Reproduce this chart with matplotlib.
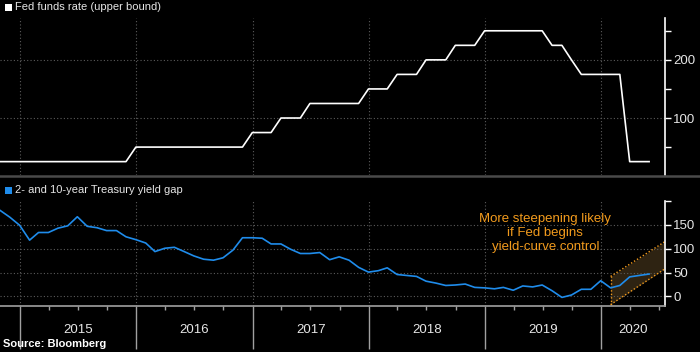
import numpy as np
import pandas as pd
import matplotlib
matplotlib.use("Agg")
import matplotlib.pyplot as plt
import matplotlib.dates as mdates
from matplotlib.lines import Line2D
from matplotlib.patches import Rectangle
from matplotlib.transforms import blended_transform_factory

plt.rcParams['font.family'] = ['Liberation Sans', 'DejaVu Sans']

# month-end observations, Oct 2014 .. May 2020
months = pd.date_range('2014-10-31', '2020-05-31', freq='ME')

fed_funds = [25, 25, 25,
             25, 25, 25, 25, 25, 25, 25, 25, 25, 25, 25, 50,
             50, 50, 50, 50, 50, 50, 50, 50, 50, 50, 50, 75,
             75, 75, 100, 100, 100, 125, 125, 125, 125, 125, 125, 150,
             150, 150, 175, 175, 175, 200, 200, 200, 225, 225, 225, 250,
             250, 250, 250, 250, 250, 250, 225, 225, 200, 175, 175, 175,
             175, 175, 25, 25, 25]

yield_gap = [180, 166, 149,
             118, 134, 134, 143, 148, 167, 147, 144, 138, 138, 125, 119,
             112, 94, 101, 103, 94, 85, 78, 76, 81, 97, 123, 123,
             122, 110, 110, 99, 90, 90, 92, 77, 83, 76, 61, 51,
             54, 60, 46, 44, 42, 32, 28, 23, 24, 26, 19, 18,
             16, 19, 13, 22, 20, 24, 12, -2, 3, 15, 15, 33,
             18, 23, 41, 44, 47]

# projected steepening band
band_dates = pd.to_datetime(['2020-01-31', '2020-07-20'])
band_upper = [42, 115]
band_lower = [-17, 58]

years = [2015, 2016, 2017, 2018, 2019, 2020]
x_start = pd.Timestamp('2014-10-30')
x_end = pd.Timestamp('2020-07-20')

BG = 'black'
TXT = '#e6e6e6'
GRID = '#5c5c5c'
BLUE = '#1f8ceb'
ORANGE = '#f29b1d'

W, H = 700, 352
fig = plt.figure(figsize=(7, 3.52), dpi=100, facecolor=BG)
ax1 = fig.add_axes([0, 1 - 175 / H, 665 / W, (175 - 18) / H], facecolor=BG)
ax2 = fig.add_axes([0, 1 - 306 / H, 665 / W, (306 - 201) / H], facecolor=BG)

year_starts = [pd.Timestamp(f'{y}-01-01') for y in years]
quarters = [pd.Timestamp(f'{y}-{m:02d}-01') for y in years for m in (4, 7, 10)]
quarters = [q for q in quarters if q < x_end]

for ax in (ax1, ax2):
    ax.set_xlim(x_start, x_end)
    for s in ('left', 'top', 'bottom'):
        ax.spines[s].set_visible(False)
    ax.spines['right'].set_color('white')
    ax.spines['right'].set_linewidth(1.2)
    ax.yaxis.tick_right()
    ax.tick_params(axis='y', which='both', colors='white', length=4, width=1,
                   labelcolor=TXT, labelsize=9.5, pad=2)
    ax.set_xticks(year_starts)
    ax.grid(axis='both', which='major', color=GRID, linestyle=(0, (1, 2)), linewidth=0.8)

# top panel: fed funds
ax1.plot(months, fed_funds, color='white', lw=1.2)
ax1.set_ylim(2, 272)
ax1.set_yticks([100, 200])
ax1.set_yticks([50, 150, 250], minor=True)
ax1.tick_params(axis='x', length=0, labelbottom=False)

# bottom panel: 2s10s
ax2.fill_between(band_dates, band_lower, band_upper, color='#2e2312', lw=0, zorder=1)
ax2.plot(band_dates, band_upper, color=ORANGE, lw=1, ls=(0, (1, 1.5)), zorder=2)
ax2.plot(band_dates, band_lower, color=ORANGE, lw=1, ls=(0, (1, 1.5)), zorder=2)
ax2.plot([band_dates[0], band_dates[0]], [band_lower[0], band_upper[0]],
         color=ORANGE, lw=1, ls=(0, (1, 1.5)), zorder=2)
ax2.plot(months, yield_gap, color=BLUE, lw=1.2, zorder=3)
ax2.set_ylim(-20, 200)
ax2.set_yticks([0, 50, 100, 150])
ax2.set_yticks([200], minor=True)
ax2.spines['bottom'].set_visible(True)
ax2.spines['bottom'].set_color('#a0a0a0')
ax2.spines['bottom'].set_linewidth(1.2)
ax2.set_xticks(quarters, minor=True)
ax2.tick_params(axis='x', which='major', length=31, width=1, colors='#a0a0a0', labelbottom=False)
ax2.tick_params(axis='x', which='minor', length=3, width=1, colors='#a0a0a0')

tr = blended_transform_factory(ax2.transData, ax2.transAxes)
for y in years:
    lo = pd.Timestamp(f'{y}-01-01')
    hi = min(pd.Timestamp(f'{y + 1}-01-01'), x_end)
    mid = lo + (hi - lo) / 2
    ax2.text(mid, -0.23, str(y), transform=tr, ha='center', va='center',
             color=TXT, fontsize=9.5)

ax2.text(0.82, 0.695, 'More steepening likely\nif Fed begins\nyield-curve control',
         transform=ax2.transAxes, ha='center', va='center', color=ORANGE,
         fontsize=9.5, linespacing=1.25)

# panel separator and legends
fig.add_artist(Line2D([0, 1], [1 - 176.2 / H] * 2, transform=fig.transFigure,
                      color='#4a4a4a', lw=1.8))
fig.add_artist(Rectangle((5 / W, 1 - 10.7 / H), 6.5 / W, 7 / H, transform=fig.transFigure,
                         facecolor='white', edgecolor='none'))
fig.text(15 / W, 1 - 7 / H, 'Fed funds rate (upper bound)', color=TXT, fontsize=8,
         ha='left', va='center')
fig.add_artist(Rectangle((5 / W, 1 - 193.5 / H), 6.5 / W, 6.5 / H, transform=fig.transFigure,
                         facecolor=BLUE, edgecolor='none'))
fig.text(15 / W, 1 - 190 / H, '2- and 10-year Treasury yield gap', color=TXT, fontsize=8,
         ha='left', va='center')
fig.text(3 / W, 1 - 344 / H, 'Source: Bloomberg', color='white', fontsize=8,
         fontweight='bold', ha='left', va='center')

fig.savefig('out.png', dpi=100, facecolor=BG)
